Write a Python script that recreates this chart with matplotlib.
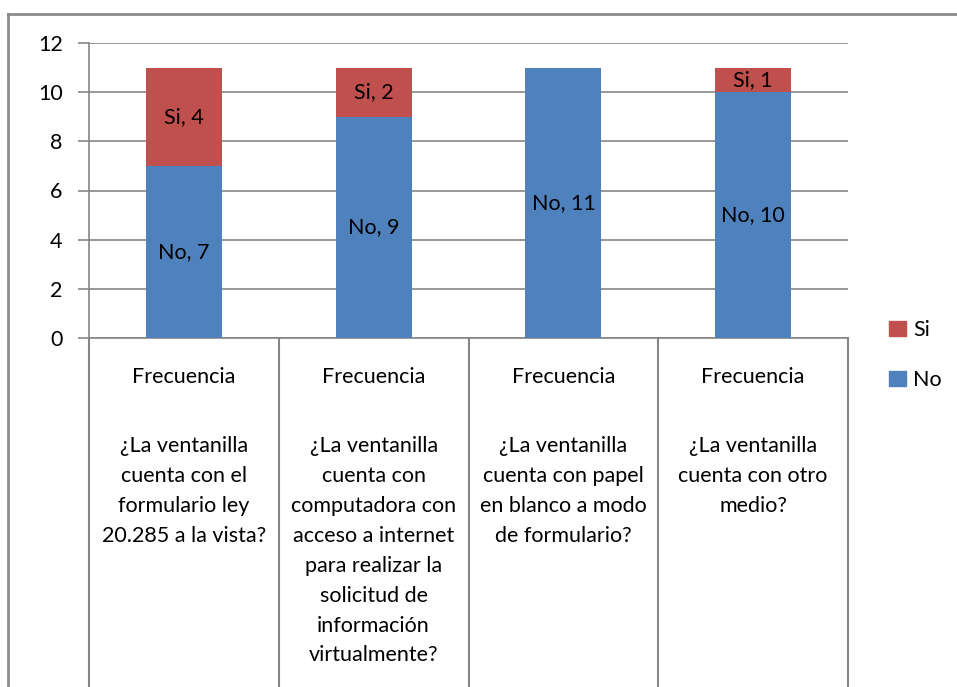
import matplotlib
matplotlib.use("Agg")
import matplotlib.pyplot as plt
from matplotlib.patches import Patch
from matplotlib.lines import Line2D
import matplotlib.transforms as mtransforms

plt.rcParams['font.family'] = ['Lato', 'DejaVu Sans']

categories = [
    "¿La ventanilla\ncuenta con el\nformulario ley\n20.285 a la vista?",
    "¿La ventanilla\ncuenta con\ncomputadora con\nacceso a internet\npara realizar la\nsolicitud de\ninformación\nvirtualmente?",
    "¿La ventanilla\ncuenta con papel\nen blanco a modo\nde formulario?",
    "¿La ventanilla\ncuenta con otro\nmedio?",
]
group_label = "Frecuencia"
no_values = [7, 9, 11, 10]
si_values = [4, 2, 0, 1]
yticks = [0, 2, 4, 6, 8, 10, 12]

W, H = 957, 687
fig = plt.figure(figsize=(W / 100, H / 100), dpi=100)

def fx(px):
    return px / W

def fy(py):
    return 1 - py / H

left, right, top, bottom = 89, 848, 43, 338
ax = fig.add_axes([fx(left), fy(bottom), fx(right - left), (bottom - top) / H])

blue = "#4F81BD"
red = "#C0504D"
grid = "#868686"
fs = 15.5

x = [i + 0.5 for i in range(len(categories))]
ax.bar(x, no_values, width=0.4, color=blue, zorder=3)
ax.bar(x, si_values, width=0.4, bottom=no_values, color=red, zorder=3)

for xi, n, s in zip(x, no_values, si_values):
    if n > 0:
        ax.text(xi, n / 2, f"No, {n}", ha="center", va="center", fontsize=fs, zorder=4)
    if s > 0:
        ax.text(xi, n + s / 2, f"Si, {s}", ha="center", va="center", fontsize=fs, zorder=4)

ax.set_xlim(0, len(categories))
ax.set_ylim(0, 12)
ax.set_yticks(yticks)
ax.set_yticklabels([str(v) for v in yticks], fontsize=fs)
ax.set_xticks([])
ax.yaxis.grid(True, color=grid, linewidth=1.2, zorder=0)
ax.tick_params(axis="y", length=8, width=1.2, color=grid, pad=11)
for sp in ["top", "right"]:
    ax.spines[sp].set_visible(False)
for sp in ["left", "bottom"]:
    ax.spines[sp].set_color(grid)
    ax.spines[sp].set_linewidth(1.2)

# category separators
trans = mtransforms.blended_transform_factory(ax.transData, fig.transFigure)
for i in range(len(categories) + 1):
    ax.add_line(Line2D([i, i], [fy(bottom), fy(686)], transform=trans,
                       color=grid, linewidth=1.5, clip_on=False))

# category labels
for xi, cat in zip(x, categories):
    ax.text(xi, fy(377), group_label, transform=trans, ha="center", va="center",
            fontsize=fs)
    ax.text(xi, fy(436), cat, transform=trans, ha="center", va="top",
            fontsize=fs, linespacing=1.62)

# outer border
fig.add_artist(Line2D([fx(8), fx(8)], [fy(14), 0], transform=fig.transFigure,
                      color="#8c8c8c", linewidth=2))
fig.add_artist(Line2D([fx(8), 1], [fy(14), fy(14)], transform=fig.transFigure,
                      color="#8c8c8c", linewidth=2))

handles = [Patch(color=red, label="Si"), Patch(color=blue, label="No")]
fig.legend(handles=handles, loc="center left", bbox_to_anchor=(fx(870), fy(355)),
           frameon=False, fontsize=fs, handlelength=0.75, handleheight=0.75,
           handletextpad=0.35, labelspacing=1.4)

fig.savefig("out.png", dpi=100)
